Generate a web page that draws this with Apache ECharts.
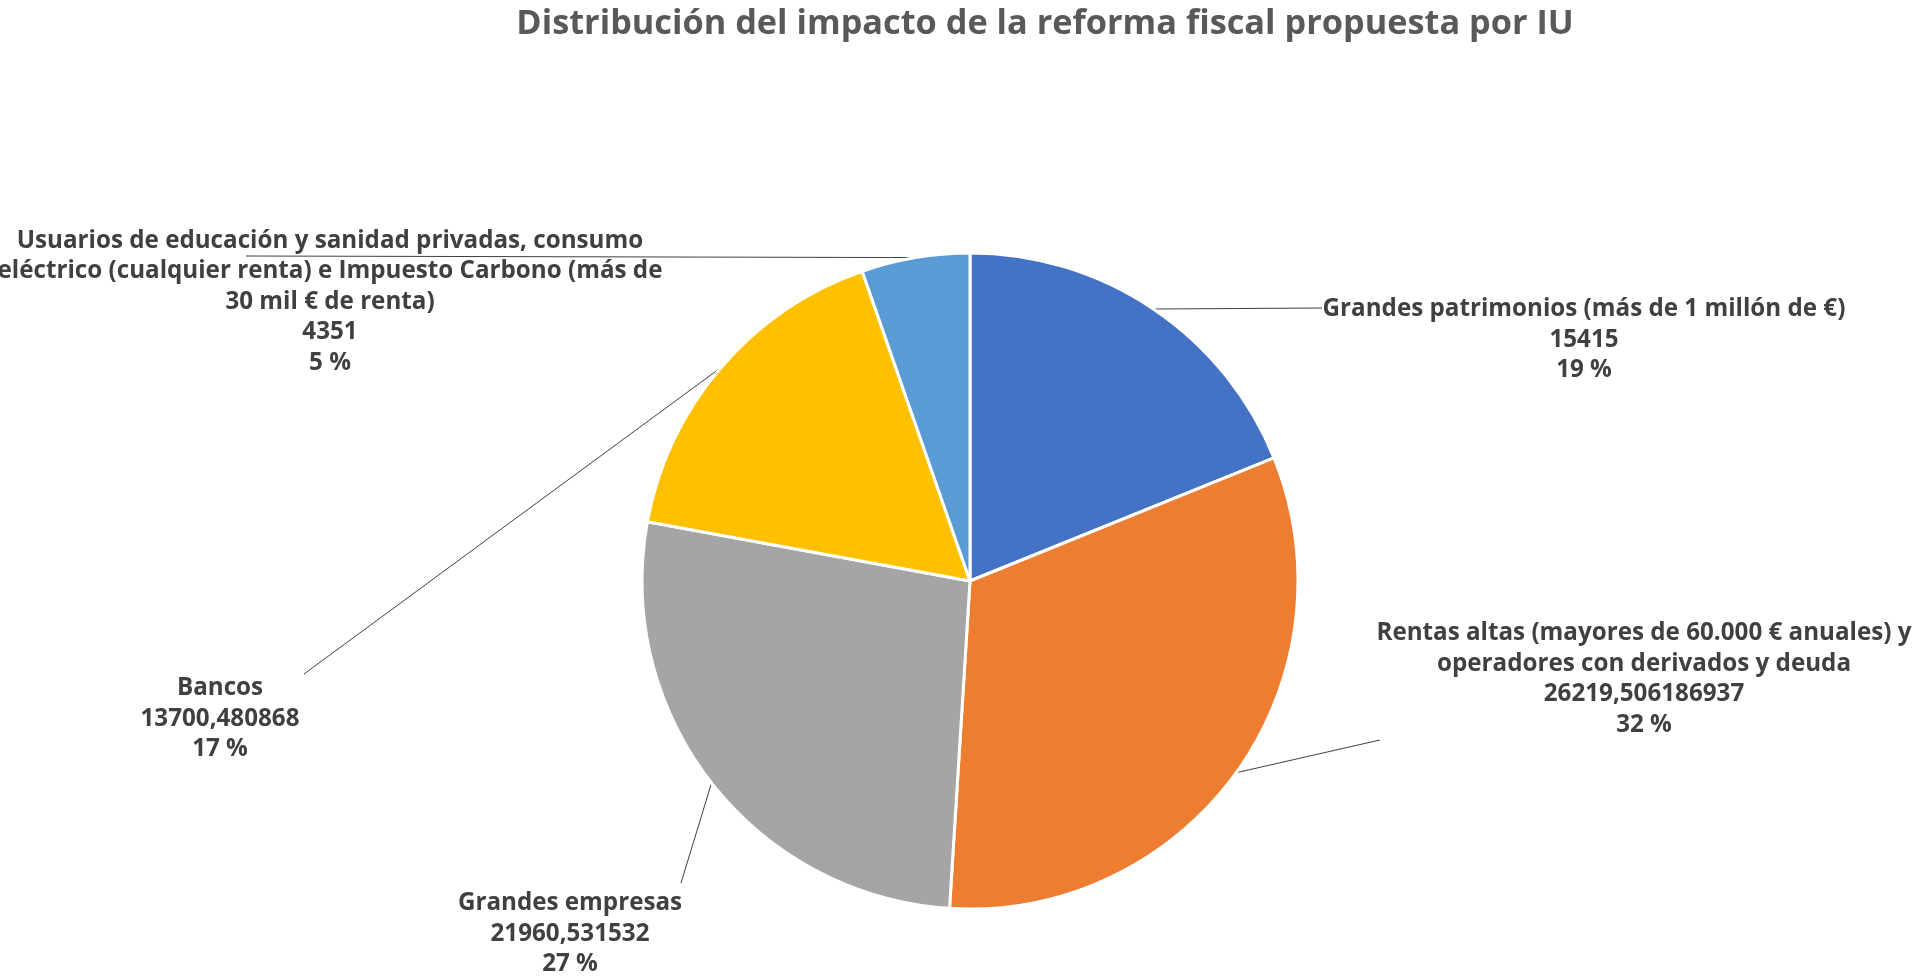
<!DOCTYPE html>
<html lang="es">
<head>
    <meta charset="UTF-8">
    <title>Distribución del impacto de la reforma fiscal propuesta por IU</title>
    <script src="https://cdn.jsdelivr.net/npm/echarts@6/dist/echarts.min.js"></script>
    <style>
        html, body { margin: 0; padding: 0; background: #fff; }
        #main { width: 1922px; height: 976px; }
    </style>
</head>
<body>
<div id="main"></div>
<script type="text/javascript">
    // datos (orden horario desde arriba)
    var categories = [
        'Grandes patrimonios (más de 1 millón de €)',
        'Rentas altas (mayores de 60.000 € anuales) y\noperadores con derivados y deuda',
        'Grandes empresas',
        'Bancos',
        'Usuarios de educación y sanidad privadas, consumo\neléctrico (cualquier renta) e Impuesto Carbono (más de\n30 mil € de renta)'
    ];
    var values = [15415, 26219.506186937, 21960.531532, 13700.480868, 4351];
    var colors = ['#4472C4', '#ED7D31', '#A5A5A5', '#FFC000', '#5B9BD5'];

    // posición de cada etiqueta (centro del bloque) y extremo de la línea guía
    var labelPos = [[1584, 340], [1644, 679], [570, 934], [220, 719], [330, 302]];
    var lineEnd = [[1322, 308], [1380, 740], [681, 883], [304, 674], [246, 256]];

    var myChart = echarts.init(document.getElementById('main'));

    var data = [];
    for (var i = 0; i < values.length; i++) {
        data.push({name: categories[i], value: values[i], itemStyle: {color: colors[i]}});
    }

    var option = {
        backgroundColor: '#ffffff',
        animation: false,
        title: {
            text: 'Distribución del impacto de la reforma fiscal propuesta por IU',
            left: 1040,
            top: 2,
            textAlign: 'center',
            textStyle: {
                fontFamily: 'Open Sans',
                fontSize: 34.3,
                fontWeight: 'bold',
                color: '#595959'
            }
        },
        series: [{
            type: 'pie',
            center: [970, 581],
            radius: 328,
            startAngle: 90,
            clockwise: true,
            data: data,
            itemStyle: {
                borderColor: '#ffffff',
                borderWidth: 3
            },
            label: {
                show: true,
                position: 'outside',
                fontFamily: 'Open Sans',
                fontSize: 24.2,
                fontWeight: 'bold',
                color: '#404040',
                lineHeight: 30.5,
                align: 'center',
                formatter: function (p) {
                    var v = String(p.value).replace('.', ',');
                    return p.name + '\n' + v + '\n' + Math.round(p.percent) + ' %';
                }
            },
            labelLine: {
                show: true,
                length: 10,
                length2: 10,
                lineStyle: {color: '#404040', width: 1}
            },
            labelLayout: function (params) {
                var i = params.dataIndex;
                var pts = params.labelLinePoints;
                var start = pts ? pts[0] : lineEnd[i];
                return {
                    x: labelPos[i][0],
                    y: labelPos[i][1],
                    align: 'center',
                    verticalAlign: 'middle',
                    labelLinePoints: [start, lineEnd[i], lineEnd[i]]
                };
            }
        }]
    };

    myChart.setOption(option);
</script>
</body>
</html>
